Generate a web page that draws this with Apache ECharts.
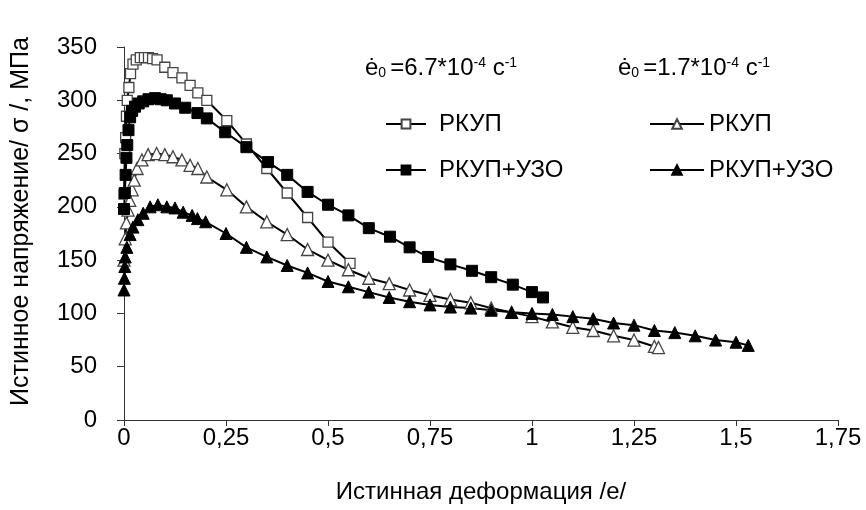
<!DOCTYPE html>
<html>
<head>
<meta charset="utf-8">
<script src="https://cdn.jsdelivr.net/npm/echarts@6/dist/echarts.min.js"></script>
<style>html,body{margin:0;padding:0;background:#fff;}#c{width:866px;height:510px;}</style>
</head>
<body>
<div id="c"></div>
<script>
// Tick settings
const xTicks = [0, 0.25, 0.5, 0.75, 1, 1.25, 1.5, 1.75];
const yTicks = [0, 50, 100, 150, 200, 250, 300, 350];

// Series names (display)
const nameA = 'РКУП';
const nameB = 'РКУП+УЗО';

// Strain (e) and stress (MPa) values
// A: РКУП, e0 = 6.7e-4 1/s (open squares)
const strainA = [0.0, 0.002, 0.004, 0.006, 0.008, 0.012, 0.016, 0.022, 0.03, 0.04, 0.05, 0.06, 0.07, 0.081, 0.1, 0.12, 0.142, 0.162, 0.181, 0.203, 0.252, 0.3, 0.35, 0.4, 0.45, 0.5, 0.554];
const stressA = [212, 250, 265, 285, 300, 312, 325, 334, 338, 340, 340, 340, 339, 338, 331, 326, 321, 314, 307, 300, 281, 259, 236, 213, 190, 167, 147];

// B: РКУП+УЗО, e0 = 6.7e-4 1/s (filled squares)
const strainB = [0.0, 0.002, 0.004, 0.006, 0.008, 0.011, 0.015, 0.02, 0.027, 0.036, 0.047, 0.06, 0.076, 0.09, 0.105, 0.125, 0.15, 0.18, 0.203, 0.248, 0.3, 0.353, 0.4, 0.45, 0.5, 0.55, 0.6, 0.652, 0.7, 0.745, 0.8, 0.853, 0.9, 0.953, 1.0, 1.027];
const stressB = [198, 213, 230, 246, 258, 272, 284, 290, 294, 297, 299, 301, 302, 301, 300, 297, 293, 288, 283, 270, 256, 242, 230, 214, 202, 192, 180, 172, 162, 153, 146, 140, 134, 127, 120, 115];

// C: РКУП, e0 = 1.7e-4 1/s (open triangles)
const strainC = [0.0, 0.003, 0.006, 0.01, 0.014, 0.02, 0.025, 0.032, 0.044, 0.059, 0.08, 0.1, 0.12, 0.142, 0.162, 0.181, 0.203, 0.252, 0.3, 0.35, 0.4, 0.45, 0.5, 0.55, 0.6, 0.65, 0.7, 0.75, 0.8, 0.85, 0.9, 0.95, 1.0, 1.05, 1.1, 1.15, 1.2, 1.25, 1.3, 1.31];
const stressC = [150, 170, 185, 197, 206, 216, 225, 236, 244, 249, 250, 249, 247, 244, 239, 236, 228, 216, 200, 186, 174, 160, 150, 141, 133, 128, 122, 117, 113, 110, 105, 101, 97, 92, 87, 84, 79, 75, 69, 68];

// D: РКУП+УЗО, e0 = 1.7e-4 1/s (filled triangles)
const strainD = [0.0, 0.001, 0.002, 0.003, 0.007, 0.015, 0.022, 0.034, 0.047, 0.064, 0.083, 0.105, 0.125, 0.145, 0.167, 0.18, 0.2, 0.25, 0.3, 0.35, 0.4, 0.45, 0.5, 0.55, 0.6, 0.65, 0.7, 0.75, 0.8, 0.85, 0.9, 0.95, 1.0, 1.05, 1.1, 1.15, 1.2, 1.25, 1.3, 1.35, 1.4, 1.45, 1.5, 1.53];
const stressD = [122, 133, 144, 153, 162, 174, 181, 188, 194, 200, 202, 200, 199, 195, 192, 189, 186, 175, 162, 153, 145, 138, 130, 125, 120, 115, 111, 108, 106, 105, 103, 101, 100, 99, 97, 95, 91, 89, 84, 82, 79, 75, 73, 70];

const zip = (xs, ys) => xs.map((x, i) => [x, ys[i]]);
const FONT = '"Liberation Sans", Arial, sans-serif';

const chart = echarts.init(document.getElementById('c'), null, {renderer: 'canvas'});

function lineSeries(id, xs, ys, symbol, filled, size) {
  return {
    id: id,
    name: id,
    type: 'line',
    data: zip(xs, ys),
    symbol: symbol,
    symbolSize: size,
    showSymbol: true,
    lineStyle: {color: '#000', width: 2},
    itemStyle: filled ? {color: '#000', borderColor: '#000', borderWidth: 1}
                      : {color: '#fff', borderColor: '#444', borderWidth: 1.3},
    emphasis: {disabled: true},
    animation: false
  };
}

const legendText = {A: nameA, B: nameB, C: nameA, D: nameB};

const richHead = {
  n: {fontSize: 24, fontFamily: FONT, color: '#000'},
  sub: {fontSize: 14, fontFamily: FONT, color: '#000', padding: [0, 4, 0, 0], verticalAlign: 'bottom'},
  sup: {fontSize: 14, fontFamily: FONT, color: '#000', verticalAlign: 'top'}
};

chart.setOption({
  animation: false,
  backgroundColor: '#fff',
  grid: {left: 124, right: 28, top: 47, bottom: 90, containLabel: false},
  xAxis: {
    type: 'value',
    min: xTicks[0], max: xTicks[xTicks.length - 1], interval: 0.25,
    name: 'Истинная деформация /е/',
    nameLocation: 'middle', nameGap: 60,
    nameTextStyle: {fontSize: 24, fontFamily: FONT, color: '#000'},
    axisLine: {show: true, lineStyle: {color: '#333', width: 1}},
    axisTick: {show: true, inside: false, length: 6, lineStyle: {color: '#333'}},
    axisLabel: {fontSize: 24, fontFamily: FONT, color: '#000', margin: 6,
      formatter: v => String(+v.toFixed(2)).replace('.', ',')},
    splitLine: {show: false}
  },
  yAxis: {
    type: 'value',
    min: yTicks[0], max: yTicks[yTicks.length - 1], interval: 50,
    name: 'Истинное напряжение/ σ /, МПа',
    nameLocation: 'middle', nameGap: 90, nameRotate: 90,
    nameTextStyle: {fontSize: 25, fontFamily: FONT, color: '#000', padding: [0, 0, 0, 24]},
    axisLine: {show: true, lineStyle: {color: '#333', width: 1}},
    axisTick: {show: true, inside: false, length: 7, lineStyle: {color: '#333'}},
    axisLabel: {fontSize: 24, fontFamily: FONT, color: '#000', margin: 27},
    splitLine: {show: false}
  },
  legend: [
    {
      data: ['A', 'B'], orient: 'vertical', left: 380, top: 107,
      itemWidth: 40, itemHeight: 11, itemGap: 22,
      formatter: n => legendText[n],
      textStyle: {fontSize: 24, fontFamily: FONT, color: '#000', padding: [0, 0, 0, 8]},
      selectedMode: false
    },
    {
      data: ['C', 'D'], orient: 'vertical', left: 644, top: 107,
      itemWidth: 54, itemHeight: 12, itemGap: 22,
      formatter: n => legendText[n],
      textStyle: {fontSize: 24, fontFamily: FONT, color: '#000', padding: [0, 0, 0, 0]},
      selectedMode: false
    }
  ],
  graphic: [
    {type: 'text', left: 365, top: 56, style: {
      text: '{n|ė}{sub|0}{n|=6.7*10}{sup|-4}{n| с}{sup|-1}', rich: richHead}},
    {type: 'text', left: 618, top: 56, style: {
      text: '{n|ė}{sub|0}{n|=1.7*10}{sup|-4}{n| с}{sup|-1}', rich: richHead}}
  ],
  series: [
    lineSeries('A', strainA, stressA, 'rect', false, 10),
    lineSeries('C', strainC, stressC, 'triangle', false, 12),
    lineSeries('B', strainB, stressB, 'rect', true, 11),
    lineSeries('D', strainD, stressD, 'triangle', true, 12)
  ]
});
</script>
</body>
</html>
